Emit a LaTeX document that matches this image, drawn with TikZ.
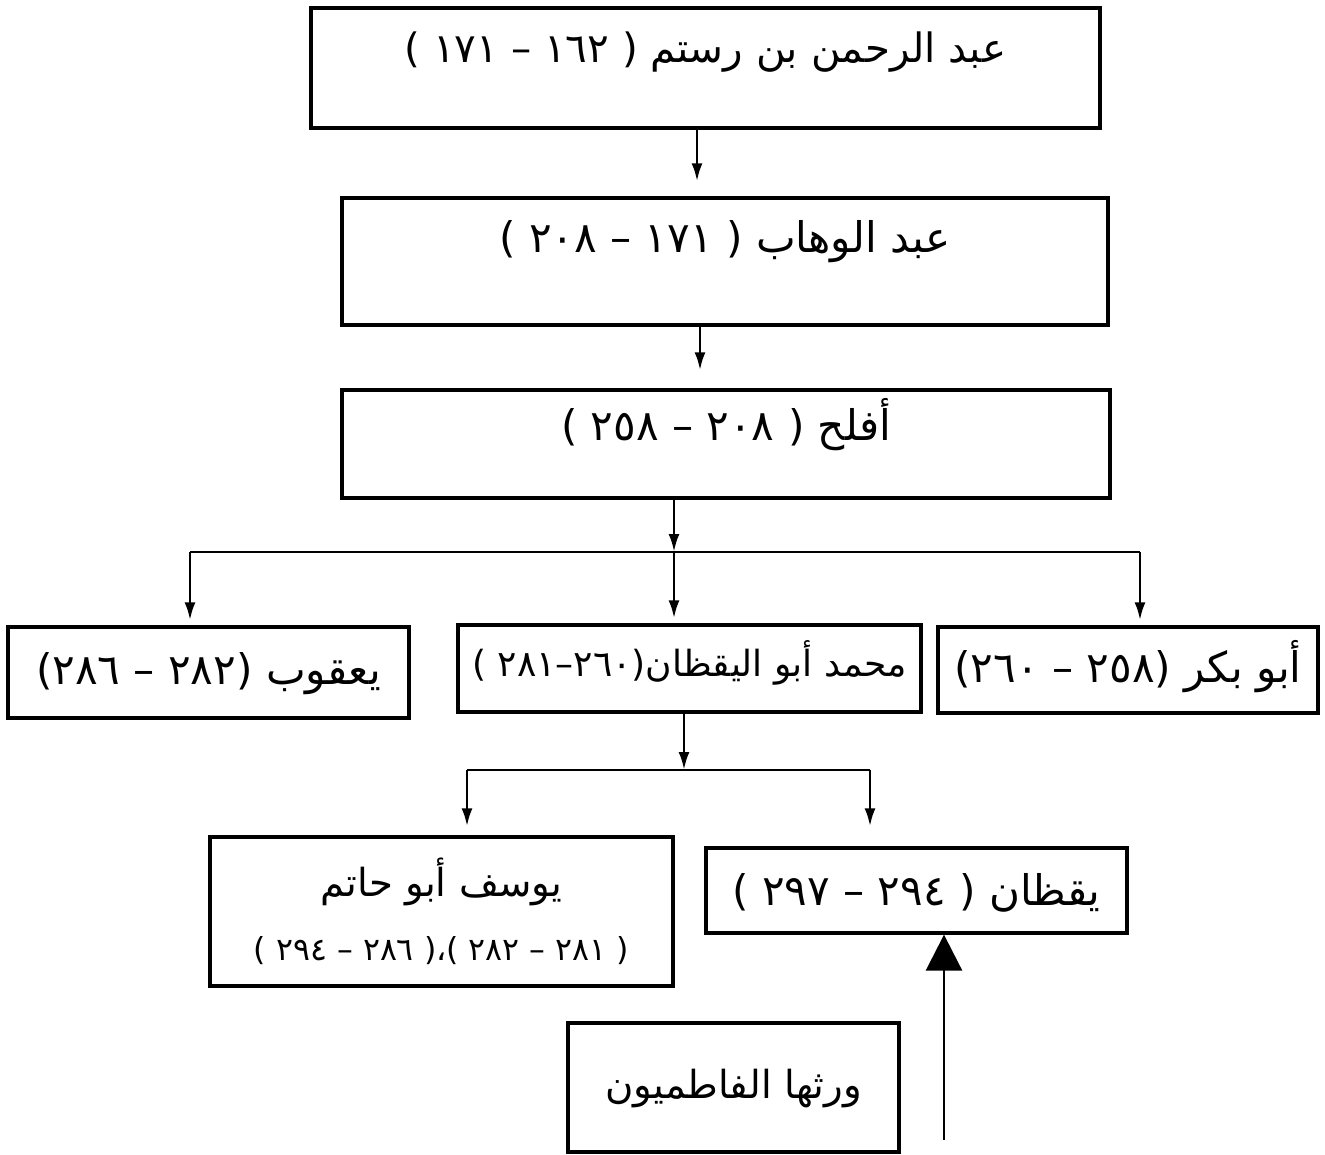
\documentclass[tikz,border=0pt]{standalone}
\usepackage{fontspec}
\newfontfamily\arabicfont[Script=Arabic]{DejaVu Sans}
\TeXXeTstate=1
\usetikzlibrary{arrows.meta,calc}

\begin{document}
\begin{tikzpicture}[x=0.02cm,y=-0.02cm,
  box/.style={draw,line width=1.9pt,inner sep=0pt,font=\arabicfont\fontsize{24}{28}\selectfont},
  arr/.style={line width=1.6pt,-{Latex[length=0.36cm,width=0.22cm]}},
  bigarr/.style={line width=1.6pt,-{Triangle[length=0.72cm,width=0.72cm]}}]
\useasboundingbox (0,0) rectangle (1325,1155);
%imams
\node[box,minimum width=15.78cm,text height=1.1cm,text depth=1.3cm] (rustam) at (705.5,68)
  {\fontsize{23}{27}\selectfont\beginR عبد الرحمن بن رستم ( ١٦٢ – ١٧١ )\endR};
\node[box,minimum width=15.32cm,text height=1.1cm,text depth=1.44cm] (wahhab) at (725,261.5)
  {\beginR عبد الوهاب ( ١٧١ – ٢٠٨ )\endR};
\node[box,minimum width=15.36cm,text height=1.0cm,text depth=1.16cm] (aflah) at (726,444)
  {\beginR أفلح ( ٢٠٨ – ٢٥٨ )\endR};
%sons of aflah
\node[box,minimum width=8.02cm,text height=1.14cm,text depth=0.68cm] (yaqub) at (208.5,672.5)
  {\beginR يعقوب (٢٨٢ – ٢٨٦)\endR};
\node[box,minimum width=9.26cm,text height=1.02cm,text depth=0.72cm] (muhammad) at (689.5,668.5)
  {\fontsize{20.5}{24}\selectfont\beginR محمد أبو اليقظان(٢٦٠–٢٨١ )\endR};
\node[box,minimum width=7.6cm,text height=1.1cm,text depth=0.62cm] (bakr) at (1128,670)
  {\beginR أبو بكر (٢٥٨ – ٢٦٠)\endR};
%sons of muhammad
\node[box,minimum width=9.26cm,minimum height=2.98cm,align=center] (yusuf) at (441.5,911.5)
  {\fontsize{22}{26}\selectfont\beginR يوسف أبو حاتم\endR\\[0.3cm]\fontsize{18}{20}\selectfont\beginR ( ٢٨١ – ٢٨٢ )،( ٢٨٦ – ٢٩٤ )\endR};
\node[box,minimum width=8.42cm,text height=1.14cm,text depth=0.56cm] (yaqzan) at (916.5,890.5)
  {\beginR يقظان ( ٢٩٤ – ٢٩٧ )\endR};
\node[box,minimum width=6.62cm,text height=1.5cm,text depth=1.08cm] (fatimid) at (733.5,1087.5)
  {\fontsize{22}{26}\selectfont\beginR ورثها الفاطميون\endR};
%connectors
\coordinate (a1) at ($(rustam.south)+(-8.5,0)$);
\coordinate (a2) at ($(wahhab.south)+(-25,0)$);
\coordinate (a3) at ($(aflah.south)+(-52,0)$);
\coordinate (fork) at (674,552);
\coordinate (fl) at (190,552);
\coordinate (fr) at (1140,552);
\coordinate (a4) at ($(muhammad.south)+(-5.5,0)$);
\coordinate (fork2) at (684,770);
\coordinate (gl) at (467,770);
\coordinate (gr) at (870,770);
\coordinate (fbot) at (944,1140);
\draw[arr,shorten >=0.3cm] (a1) -- (a1 |- wahhab.north);
\draw[arr,shorten >=0.36cm] (a2) -- (a2 |- aflah.north);
\draw[arr] (a3) -- (fork);
\draw[line width=1.6pt] (fl) -- (fr);
\draw[arr,shorten >=0.1cm] (fl) -- (fl |- yaqub.north);
\draw[arr,shorten >=0.1cm] (fork) -- (fork |- muhammad.north);
\draw[arr,shorten >=0.1cm] (fr) -- (fr |- bakr.north);
\draw[arr] (a4) -- (fork2);
\draw[line width=1.6pt] (gl) -- (gr);
\draw[arr,shorten >=0.18cm] (gl) -- (gl |- yusuf.north);
\draw[arr,shorten >=0.4cm] (gr) -- (gr |- yaqzan.north);
\draw[bigarr] (fbot) -- (fbot |- yaqzan.south);
\end{tikzpicture}
\end{document}
